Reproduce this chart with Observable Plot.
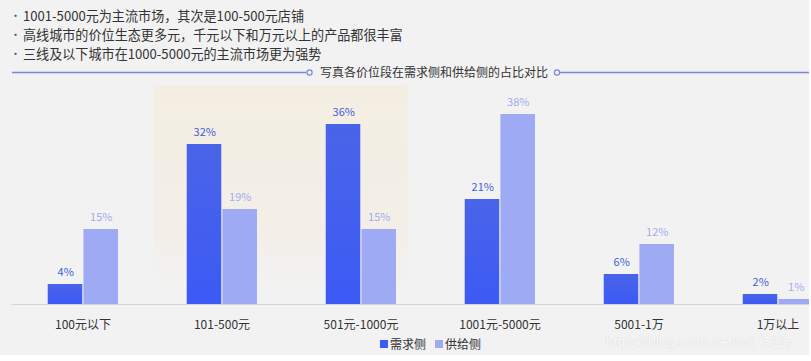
<!DOCTYPE html>
<html><head><meta charset="utf-8">
<script src="https://cdn.jsdelivr.net/npm/d3@7"></script>
<script src="https://cdn.jsdelivr.net/npm/@observablehq/plot@0.6"></script>
<style>
html,body{margin:0;padding:0;background:#fff;}
#wrap{position:relative;width:809px;height:355px;background:#f2f2f2;overflow:hidden;font-family:"Noto Sans CJK SC","Noto Sans",sans-serif;color:#333;}
#bullets{position:absolute;left:10px;top:6px;font-size:13.1px;}
#bullets div{white-space:nowrap;display:flex;align-items:center;height:19px;}
#bullets span.b{display:inline-block;width:13px;font-size:11px;line-height:11px;color:#555;}
#divider{position:absolute;left:0;top:62px;}
#chart{position:absolute;left:0;top:80px;width:848px;}
#chart svg{max-width:none !important;}
#legend{position:absolute;left:380px;top:335px;font-size:12px;display:flex;align-items:center;white-space:nowrap;}
#legend .sw{display:inline-block;width:8px;height:8px;margin-right:2px;}
#legend .it{display:flex;align-items:center;margin-right:9px;}
#wm{position:absolute;left:606px;top:334px;font-family:"Liberation Sans",sans-serif;font-size:14px;color:#fbfbfb;text-shadow:0 0 1px #c4c4c4;white-space:nowrap;}
</style></head>
<body>
<div id="wrap">
  <div id="bullets"></div>
  <svg id="divider" width="809" height="24"></svg>
  <div id="chart"></div>
  <div id="legend"></div>
  <div id="wm">https://blog.csdn.net/m0_5227</div>
</div>
<script>
const categories = ["100元以下","101-500元","501元-1000元","1001元-5000元","5001-1万","1万以上"];
const demand = [4, 32, 36, 21, 6, 2];
const supply = [15, 19, 15, 38, 12, 1];
const seriesNames = ["需求侧","供给侧"];
const seriesColors = ["#3f5cf2","#9eaaf4"];
const labelColors = ["#3f5fd9","#a3adef"];
const highlightCats = ["101-500元","501元-1000元"];
const highlightTop = 43.8;
const bullets = [
  "1001-5000元为主流市场，其次是100-500元店铺",
  "高线城市的价位生态更多元，千元以下和万元以上的产品都很丰富",
  "三线及以下城市在1000-5000元的主流市场更为强势"
];
const subtitle = "写真各价位段在需求侧和供给侧的占比对比";

// bullets
const bdiv = document.getElementById("bullets");
bullets.forEach(t => {
  const d = document.createElement("div");
  d.innerHTML = '<span class="b">•</span><span>' + t + '</span>';
  bdiv.appendChild(d);
});

// divider with title
const dv = d3.select("#divider");
const lineColor = "#7d85da";
dv.append("line").attr("x1",12).attr("x2",306).attr("y1",10.5).attr("y2",10.5).attr("stroke",lineColor).attr("stroke-width",1.3);
dv.append("circle").attr("cx",309.5).attr("cy",10.5).attr("r",2.6).attr("fill","#f2f2f2").attr("stroke",lineColor).attr("stroke-width",1.2);
dv.append("text").attr("x",320).attr("y",12).attr("dominant-baseline","middle").attr("font-size",12).attr("fill","#333").text(subtitle);
dv.append("circle").attr("cx",557).attr("cy",10.5).attr("r",2.6).attr("fill","#f2f2f2").attr("stroke",lineColor).attr("stroke-width",1.2);
dv.append("line").attr("x1",560).attr("x2",809).attr("y1",10.5).attr("y2",10.5).attr("stroke",lineColor).attr("stroke-width",1.3);

// chart
const W = 848, ML = 11.3;
const step = (W - ML) / categories.length;
const half = step / 2;
const barW = 35;
const demandData = categories.map((c, i) => ({c, v: demand[i]}));
const supplyData = categories.map((c, i) => ({c, v: supply[i]}));
const hlData = highlightCats.map(c => ({c, v: highlightTop}));

const plot = Plot.plot({
  width: W,
  height: 275,
  marginLeft: ML,
  marginRight: 0,
  marginTop: 4,
  marginBottom: 51,
  style: {background: "transparent", fontFamily: "'Noto Sans CJK SC','Noto Sans',sans-serif", fontSize: "12px", color: "#333", overflow: "visible", maxWidth: "none"},
  x: {domain: categories, padding: 0, tickSize: 0, tickPadding: 16, label: null},
  y: {domain: [0, 44], axis: null},
  marks: [
    Plot.barY(hlData.slice(0,1), {x: "c", y: "v", fill: "url(#hl)", insetLeft: 1.5, insetRight: 0}),
    Plot.barY(hlData.slice(1,2), {x: "c", y: "v", fill: "url(#hl)", insetLeft: 0, insetRight: 22.4}),
    Plot.ruleY([0], {stroke: "#d4d4d4", strokeWidth: 1.2}),
    Plot.barY(demandData, {x: "c", y: "v", fill: "url(#gd)", insetLeft: half - barW, insetRight: half}),
    Plot.barY(supplyData, {x: "c", y: "v", fill: seriesColors[1], insetLeft: half + 0.7, insetRight: half - barW - 0.7}),
    Plot.text(demandData, {x: "c", y: "v", text: d => d.v + "%", dx: -17.3, dy: -12.5, fill: labelColors[0], fontSize: 11}),
    Plot.text(supplyData, {x: "c", y: "v", text: d => d.v + "%", dx: 18.2, dy: -12.5, fill: labelColors[1], fontSize: 11})
  ]
});
plot.style.maxWidth = "none";
plot.insertAdjacentHTML("afterbegin",
  '<defs>' +
  '<linearGradient id="gd" x1="0" y1="0" x2="0" y2="1"><stop offset="0" stop-color="#4a64e8"/><stop offset="1" stop-color="#3c5af5"/></linearGradient>' +
  '<linearGradient id="hl" x1="0" y1="0" x2="0" y2="1"><stop offset="0" stop-color="#f4eee2"/><stop offset="0.7" stop-color="#f3efe8"/><stop offset="1" stop-color="#f2f2f2" stop-opacity="0"/></linearGradient>' +
  '</defs>');
document.getElementById("chart").appendChild(plot);

// legend
const lg = document.getElementById("legend");
seriesNames.forEach((n, i) => {
  const it = document.createElement("div");
  it.className = "it";
  it.innerHTML = '<span class="sw" style="background:' + seriesColors[i] + '"></span>' + n;
  lg.appendChild(it);
});
</script>
</body></html>
